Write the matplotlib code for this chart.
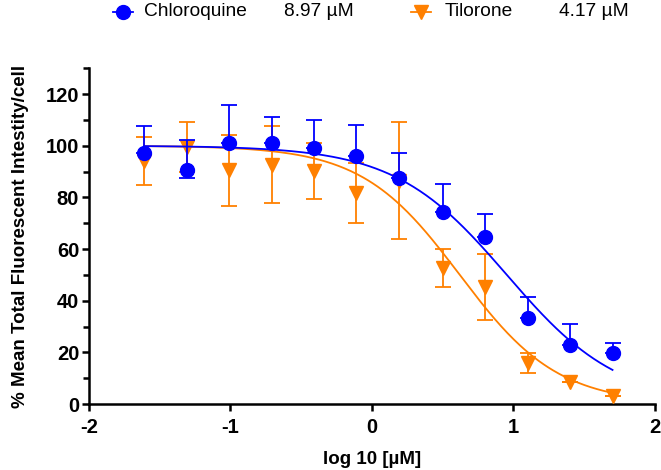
import numpy as np
import matplotlib
matplotlib.use("Agg")
import matplotlib.pyplot as plt
from matplotlib.lines import Line2D
from matplotlib.ticker import MultipleLocator

plt.rcParams['font.family'] = ['Liberation Sans', 'DejaVu Sans']
plt.rcParams['axes.unicode_minus'] = False

# log10 of concentration (uM), 2-fold dilution series
log_conc = [-1.61, -1.31, -1.01, -0.71, -0.41, -0.11, 0.19, 0.50, 0.80, 1.10, 1.40, 1.70]

chloro_mean = [97.3, 90.6, 100.9, 100.9, 99.0, 96.1, 87.4, 74.5, 64.5, 33.2, 22.8, 19.9]
chloro_err_up = [10.3, 11.6, 14.9, 10.1, 10.9, 11.8, 9.9, 10.7, 8.9, 8.3, 8.2, 3.8]
chloro_err_lo = [0, 3.0, 0, 0, 0, 0, 0, 0, 0, 0, 0, 0]

tilo_mean = [94.0, 99.5, 90.4, 92.7, 90.2, 81.6, 86.5, 52.6, 45.3, 15.9, 8.6, 3.2]
tilo_err = [9.3, 9.8, 13.7, 15.0, 11.0, 11.6, 22.6, 7.3, 12.8, 4.0, 0, 0]

# fitted dose-response parameters (top, bottom, IC50 in uM, hill slope)
chloro_fit = (100, 0, 8.97, 1.095)
tilo_fit = (100, 0, 4.17, 1.25)

blue = '#0000FF'
orange = '#FF8000'


def logistic(x, fit):
    top, bottom, ic50, hill = fit
    return bottom + (top - bottom) / (1 + 10 ** ((x - np.log10(ic50)) * hill))


fig = plt.figure(figsize=(6.61, 4.70), dpi=100)
ax = fig.add_axes([0.1346, 0.1404, 0.8563, 0.7145])

xs = np.linspace(log_conc[0], log_conc[-1], 300)

# Tilorone first, Chloroquine drawn on top
ax.plot(xs, logistic(xs, tilo_fit), color=orange, lw=1.3, zorder=2)
ax.errorbar(log_conc, tilo_mean, yerr=tilo_err, fmt='v', color=orange,
            ms=10.5, elinewidth=1.3, capsize=6, capthick=1.3, zorder=3)

ax.plot(xs, logistic(xs, chloro_fit), color=blue, lw=1.3, zorder=4)
ax.errorbar(log_conc, chloro_mean, yerr=[chloro_err_lo, chloro_err_up], fmt='o',
            color=blue, ms=10, elinewidth=1.3, capsize=6, capthick=1.3, zorder=5)

ax.set_xlim(-2, 2)
ax.set_ylim(0, 130)
ax.set_xticks([-2, -1, 0, 1, 2])
ax.yaxis.set_major_locator(MultipleLocator(20))
ax.yaxis.set_minor_locator(MultipleLocator(10))
ax.set_yticks(range(0, 121, 20))

for side in ['top', 'right']:
    ax.spines[side].set_visible(False)
for side in ['left', 'bottom']:
    ax.spines[side].set_linewidth(1.8)
ax.tick_params(which='major', length=5, width=1.8, labelsize=14.5)
ax.tick_params(axis='x', which='major', pad=5)
ax.tick_params(axis='y', which='major', pad=2)
ax.tick_params(which='minor', length=4, width=1.8)
for lab in ax.get_xticklabels() + ax.get_yticklabels():
    lab.set_fontweight('bold')

ax.set_xlabel('log 10 [µM]', fontsize=13.5, fontweight='bold', labelpad=10)
ax.set_ylabel('% Mean Total Fluorescent Intestity/cell', fontsize=13.5,
              fontweight='bold', labelpad=12)

# legend across the top
ly = 1 - 12 / 470
fig.add_artist(Line2D([0.171, 0.201], [ly, ly], color=blue, lw=1.3,
                      transform=fig.transFigure))
fig.add_artist(Line2D([0.186], [ly], color=blue, marker='o', ms=10,
                      transform=fig.transFigure))
fig.text(0.218, ly, 'Chloroquine', fontsize=13.8, va='center', ha='left')
fig.text(0.430, ly, '8.97 µM', fontsize=13.8, va='center', ha='left')
fig.add_artist(Line2D([0.622, 0.652], [ly, ly], color=orange, lw=1.3,
                      transform=fig.transFigure))
fig.add_artist(Line2D([0.637], [ly], color=orange, marker='v', ms=10.5,
                      transform=fig.transFigure))
fig.text(0.673, ly, 'Tilorone', fontsize=13.8, va='center', ha='left')
fig.text(0.846, ly, '4.17 µM', fontsize=13.8, va='center', ha='left')

fig.savefig('out.png', dpi=100)
